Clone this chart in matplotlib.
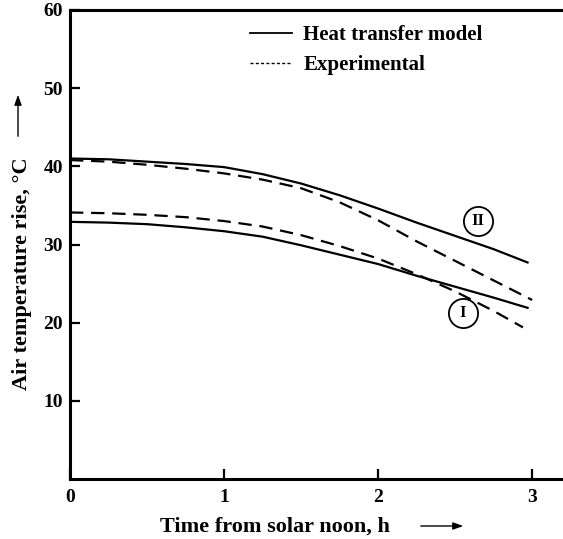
import matplotlib
matplotlib.use("Agg")
import matplotlib.pyplot as plt
from matplotlib.lines import Line2D
from matplotlib.patches import FancyArrowPatch

# Air temperature rise vs. time from solar noon for two collectors (I and II)
time_model_2 = [0.0, 0.25, 0.5, 0.75, 1.0, 1.25, 1.5, 1.75, 2.0, 2.25, 2.5, 2.75, 2.97]
rise_model_2 = [41.0, 40.9, 40.6, 40.3, 39.9, 39.0, 37.8, 36.3, 34.6, 32.8, 31.1, 29.4, 27.7]

time_exp_2 = [0.0, 0.25, 0.5, 0.75, 1.0, 1.25, 1.5, 1.75, 2.0, 2.25, 2.5, 2.75, 3.0]
rise_exp_2 = [40.8, 40.6, 40.2, 39.7, 39.1, 38.3, 37.2, 35.4, 33.1, 30.4, 27.9, 25.4, 22.9]

time_model_1 = [0.0, 0.25, 0.5, 0.75, 1.0, 1.25, 1.5, 1.75, 2.0, 2.25, 2.5, 2.75, 2.97]
rise_model_1 = [32.9, 32.8, 32.6, 32.2, 31.7, 31.0, 29.9, 28.7, 27.5, 26.0, 24.6, 23.2, 21.9]

time_exp_1 = [0.0, 0.25, 0.5, 0.75, 1.0, 1.25, 1.5, 1.75, 2.0, 2.25, 2.5, 2.75, 2.94]
rise_exp_1 = [34.1, 34.0, 33.8, 33.5, 33.0, 32.3, 31.2, 29.8, 28.2, 26.2, 24.0, 21.5, 19.4]

# Where the curve identifiers sit (time, rise)
tag_pos = {"II": (2.65, 33.0), "I": (2.55, 21.2)}

x_ticks = [0, 1, 2, 3]
y_ticks = [10, 20, 30, 40, 50, 60]
legend_labels = ["Heat transfer model", "Experimental"]

W, H = 563, 539
serif = ["Liberation Serif", "DejaVu Serif"]
plt.rcParams["font.family"] = serif
plt.rcParams["font.weight"] = "bold"

fig = plt.figure(figsize=(W / 100, H / 100), dpi=100)
ax = fig.add_axes([70 / W, (H - 479) / H, (W - 70) / W, (479 - 10) / H])
ax.set_xlim(0, 3.2)
ax.set_ylim(0, 60)

lw = 1.6
dash = (0, (6, 3.5))
ax.plot(time_model_2, rise_model_2, color="black", lw=lw)
ax.plot(time_exp_2, rise_exp_2, color="black", lw=lw, linestyle=dash)
ax.plot(time_model_1, rise_model_1, color="black", lw=lw)
ax.plot(time_exp_1, rise_exp_1, color="black", lw=lw, linestyle=dash)

# Circled curve identifiers
for name, (tx, ty) in tag_pos.items():
    ax.plot([tx], [ty], marker="o", markersize=21, mfc="white", mec="black",
            mew=1.3, linestyle="none", zorder=4)
    ax.text(tx, ty, name, ha="center", va="center", fontsize=12,
            fontweight="bold", zorder=5)

for side in ("left", "bottom", "top"):
    ax.spines[side].set_linewidth(2.2)
ax.spines["right"].set_visible(False)

ax.set_xticks(x_ticks)
ax.set_xticklabels([str(t) for t in x_ticks])
ax.set_yticks(y_ticks)
ax.set_yticklabels([str(t) for t in y_ticks])
ax.tick_params(axis="both", direction="in", length=7, width=1.6,
               labelsize=14)
ax.tick_params(axis="x", pad=7)
ax.tick_params(axis="y", pad=5)

handles = [Line2D([], [], color="black", lw=1.3),
           Line2D([], [], color="black", lw=1.0, linestyle=(0, (2.2, 1.6)))]
leg = ax.legend(handles, legend_labels, loc="upper left",
                bbox_to_anchor=(250 / W, 1 - 25 / H), bbox_transform=fig.transFigure,
                frameon=False, fontsize=15, handlelength=2.0, handletextpad=0.55,
                labelspacing=0.5, borderaxespad=0, borderpad=0)
for t in leg.get_texts():
    t.set_fontweight("bold")

fig.text(275 / W, 1 - 527 / H, "Time from solar noon, h", ha="center",
         va="center", fontsize=16, fontweight="bold")
fig.text(22 / W, 1 - 274 / H, "Air temperature rise, °C", ha="center",
         va="center", rotation=90, fontsize=16, fontweight="bold")

arrowstyle = "-|>,head_length=0.5,head_width=0.18"
fig.add_artist(FancyArrowPatch(
    (418 / W, 1 - 526 / H), (466 / W, 1 - 526 / H), transform=fig.transFigure,
    arrowstyle=arrowstyle, color="black", lw=1.0, mutation_scale=12))
fig.add_artist(FancyArrowPatch(
    (18 / W, 1 - 139 / H), (18 / W, 1 - 92 / H), transform=fig.transFigure,
    arrowstyle=arrowstyle, color="black", lw=1.0, mutation_scale=12))

fig.savefig("out.png", dpi=100)
